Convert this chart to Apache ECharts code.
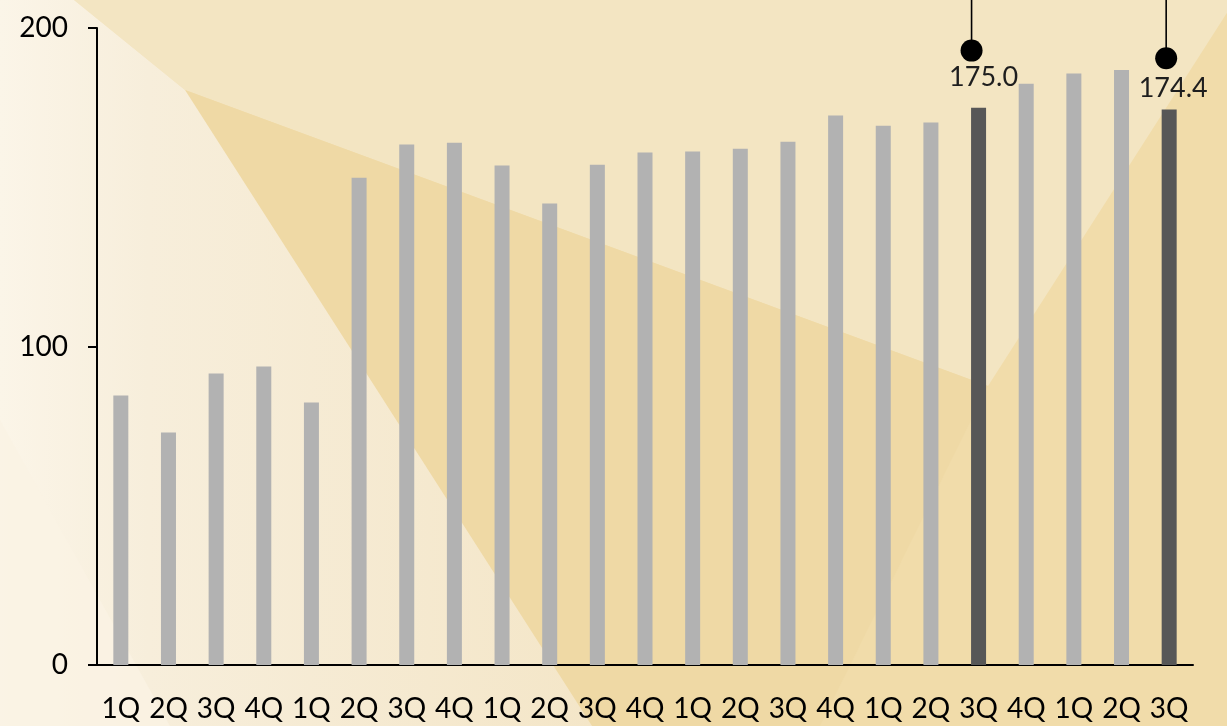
<!DOCTYPE html>
<html>
<head>
<meta charset="utf-8">
<script src="https://cdn.jsdelivr.net/npm/echarts@6/dist/echarts.min.js"></script>
<style>
html,body{margin:0;padding:0;background:#f1dcaa;}
#chart{width:1227px;height:726px;}
</style>
</head>
<body>
<div id="chart"></div>
<script>
// ---- data ----
const categories = ['1Q','2Q','3Q','4Q','1Q','2Q','3Q','4Q','1Q','2Q','3Q','4Q','1Q','2Q','3Q','4Q','1Q','2Q','3Q','4Q','1Q','2Q','3Q'];
const values = [84.6, 73.0, 91.5, 93.7, 82.4, 153.0, 163.4, 164.0, 156.8, 144.9, 157.1, 160.9, 161.2, 162.1, 164.3, 172.5, 169.3, 170.3, 175.0, 182.5, 185.7, 186.8, 174.4];
const highlightIndex = [18, 22];
const highlightLabels = ['175.0', '174.4'];
const pinValues = [192.9, 190.5];
const yTicks = [0, 100, 200];

// ---- styles ----
const greyBar = '#b2b2b2';
const darkBar = '#575757';
const fontFam = 'Lato, "Open Sans", sans-serif';
const pinStyle = [{dx: -7, lx: 5, ly: 27}, {dx: -3, lx: 4, ly: 30}];

const chart = echarts.init(document.getElementById('chart'), null, {renderer: 'canvas'});

const barData = values.map((v, i) => ({
  value: v,
  itemStyle: {color: highlightIndex.includes(i) ? darkBar : greyBar}
}));

const pinData = highlightIndex.map((idx, k) => [idx, pinValues[k], k]);

const option = {
  backgroundColor: '#f1dcaa',
  animation: false,
  graphic: [
    {type: 'polygon', z: -100, silent: true,
     shape: {points: [[0,-60],[185,90],[988,386],[1230,8],[1230,-60]]},
     style: {fill: '#f3e5c2'}},
    {type: 'polygon', z: -99, silent: true,
     shape: {points: [[185,90],[988,386],[820,726],[592,726]]},
     style: {fill: '#efd9a5'}},
    {type: 'polygon', z: -98, silent: true,
     shape: {points: [[0,-60],[185,90],[592,726],[0,726]]},
     style: {fill: new echarts.graphic.LinearGradient(0, 0, 1, 0, [
       {offset: 0, color: '#fbf5e8'},
       {offset: 0.25, color: '#f7eedb'},
       {offset: 1, color: '#f4e6c8'}
     ])}},
    {type: 'polygon', z: -97, silent: true,
     shape: {points: [[0,420],[170,726],[0,726]]},
     style: {fill: '#faf3e4', opacity: 0.8}}
  ],
  grid: {left: 97, right: 34, top: 28, bottom: 61, containLabel: false},
  xAxis: {
    type: 'category',
    data: categories,
    boundaryGap: true,
    axisLine: {show: true, lineStyle: {color: '#000', width: 2}},
    axisTick: {show: false},
    axisLabel: {interval: 0, color: '#000', fontSize: 28, fontFamily: fontFam, margin: 30}
  },
  yAxis: {
    type: 'value',
    min: yTicks[0], max: yTicks[yTicks.length - 1], interval: 100,
    splitLine: {show: false},
    axisLine: {show: true, lineStyle: {color: '#000', width: 2}},
    axisTick: {show: true, length: 9, lineStyle: {color: '#000', width: 2}},
    axisLabel: {color: '#000', fontSize: 28, fontFamily: fontFam, margin: 29}
  },
  series: [
    {
      type: 'bar',
      data: barData,
      barWidth: 15,
      z: 2
    },
    {
      type: 'custom',
      data: pinData,
      z: 5,
      clip: false,
      renderItem: function (params, api) {
        const idx = api.value(0);
        const k = api.value(2);
        const p = api.coord([idx, api.value(1)]);
        const st = pinStyle[k];
        const x = p[0] + st.dx;
        const y = p[1];
        return {
          type: 'group',
          children: [
            {type: 'line', shape: {x1: x, y1: 0, x2: x, y2: y},
             style: {stroke: '#000', lineWidth: 1.6}},
            {type: 'circle', shape: {cx: x, cy: y, r: 11},
             style: {fill: '#000'}},
            {type: 'text', style: {
              text: highlightLabels[k], x: p[0] + st.lx, y: y + st.ly,
              align: 'center', verticalAlign: 'middle',
              fontSize: 27, fontFamily: fontFam, fill: '#1e1e1e'
            }}
          ]
        };
      }
    }
  ]
};
chart.setOption(option);
</script>
</body>
</html>
